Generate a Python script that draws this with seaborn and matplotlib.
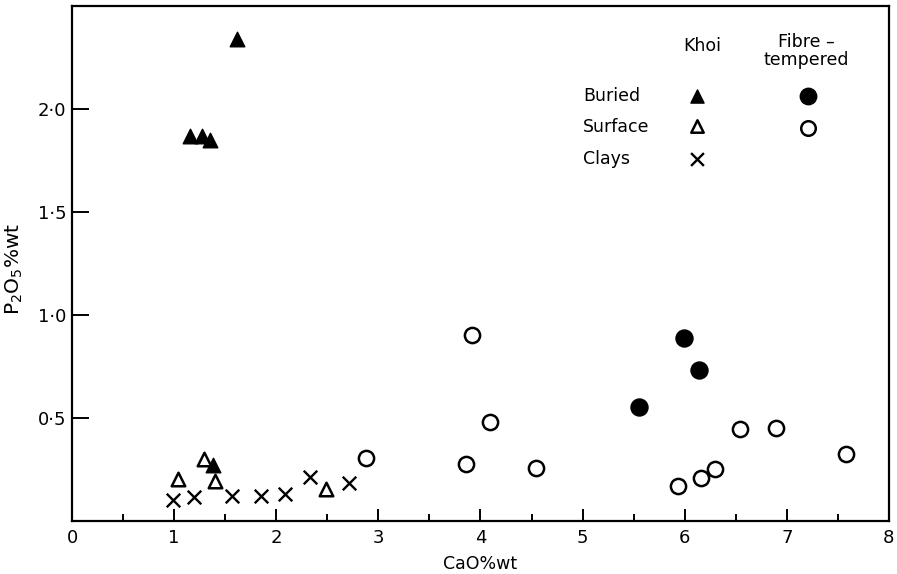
import matplotlib
matplotlib.use("Agg")
import matplotlib.pyplot as plt
import seaborn as sns
import pandas as pd
from matplotlib.ticker import MultipleLocator, FixedLocator

# ---- data ----
khoi_buried_cao = [1.16, 1.27, 1.35, 1.62, 1.38]
khoi_buried_p2o5 = [1.87, 1.87, 1.85, 2.34, 0.27]

khoi_surface_cao = [1.04, 1.29, 1.40, 2.49]
khoi_surface_p2o5 = [0.20, 0.30, 0.19, 0.155]

clays_cao = [0.99, 1.19, 1.57, 1.85, 2.09, 2.33, 2.71]
clays_p2o5 = [0.10, 0.115, 0.12, 0.12, 0.13, 0.21, 0.18]

fibre_buried_cao = [5.55, 5.99, 6.14]
fibre_buried_p2o5 = [0.55, 0.885, 0.73]

fibre_surface_cao = [2.88, 3.86, 3.92, 4.09, 4.54, 5.93, 6.16, 6.30, 6.54, 6.89, 7.58]
fibre_surface_p2o5 = [0.305, 0.275, 0.90, 0.48, 0.255, 0.17, 0.205, 0.25, 0.445, 0.45, 0.325]

x_ticks = [0, 1, 2, 3, 4, 5, 6, 7, 8]
x_tick_labels = ["0", "1", "2", "3", "4", "5", "6", "7", "8"]
y_ticks = [0.5, 1.0, 1.5, 2.0]
y_tick_labels = ["0·5", "1·0", "1·5", "2·0"]

sns.set_theme(style="white")
plt.rcParams["font.family"] = ["DejaVu Sans"]
plt.rcParams["text.color"] = "black"
plt.rcParams["axes.labelcolor"] = "black"

fig = plt.figure(figsize=(8.97, 5.74), dpi=100)
ax = fig.add_axes([0.0803, 0.0932, 0.9107, 0.8963])

groups = [
    (khoi_buried_cao, khoi_buried_p2o5, dict(marker="^", s=110, color="black", edgecolor="black", linewidth=1)),
    (khoi_surface_cao, khoi_surface_p2o5, dict(marker="^", s=95, facecolor="white", edgecolor="black", linewidth=1.8)),
    (clays_cao, clays_p2o5, dict(marker="x", s=95, color="black", linewidth=1.7)),
    (fibre_buried_cao, fibre_buried_p2o5, dict(marker="o", s=150, color="black", edgecolor="black", linewidth=1)),
    (fibre_surface_cao, fibre_surface_p2o5, dict(marker="o", s=120, facecolor="white", edgecolor="black", linewidth=1.8)),
]
for xs, ys, kw in groups:
    df = pd.DataFrame({"CaO": xs, "P2O5": ys})
    sns.scatterplot(data=df, x="CaO", y="P2O5", ax=ax, zorder=3, **kw)

ax.set_xlim(0, 8)
ax.set_ylim(0, 2.5)
ax.xaxis.set_major_locator(FixedLocator(x_ticks))
ax.set_xticklabels(x_tick_labels)
ax.xaxis.set_minor_locator(MultipleLocator(0.5))
ax.yaxis.set_major_locator(FixedLocator(y_ticks))
ax.set_yticklabels(y_tick_labels)

ax.tick_params(axis="x", which="major", direction="in", length=9, width=1.4,
               labelsize=13, pad=6, bottom=True, color="black", labelcolor="black")
ax.tick_params(axis="x", which="minor", direction="in", length=5, width=1.4, bottom=True, color="black")
ax.tick_params(axis="y", which="major", direction="in", length=12, width=1.4,
               labelsize=13, pad=4, left=True, color="black", labelcolor="black")

for sp in ax.spines.values():
    sp.set_visible(True)
    sp.set_color("black")
    sp.set_linewidth(1.6)

ax.set_xlabel("CaO%wt", fontsize=12.5, color="black", labelpad=6)
ax.set_ylabel(r"P$_2$O$_5$%wt", fontsize=14.5, color="black")
ax.yaxis.set_label_coords(-0.057, 0.489)

# ---- legend drawn as text + symbols (axes coordinates) ----
def ax_xy(px, py):
    return ((px - 72) / 817.0, (520.5 - py) / 514.5)

tr = ax.transAxes
fs = 12.5
x, y = ax_xy(702, 46)
ax.text(x, y, "Khoi", transform=tr, ha="center", va="center", fontsize=fs, color="black")
x, y = ax_xy(806, 51)
ax.text(x, y, "Fibre –\ntempered", transform=tr, ha="center", va="center",
        fontsize=fs, linespacing=0.95, color="black")
rows = [("Buried", 96), ("Surface", 127), ("Clays", 159)]
for lab, py in rows:
    x, y = ax_xy(583, py)
    ax.text(x, y, lab, transform=tr, ha="left", va="center", fontsize=fs, color="black")

leg_syms = [
    (697, 96, dict(marker="^", s=90, color="black", edgecolor="black", linewidth=1)),
    (697, 126, dict(marker="^", s=80, facecolor="white", edgecolor="black", linewidth=1.8)),
    (697, 159, dict(marker="x", s=85, color="black", linewidth=1.7)),
    (808, 96, dict(marker="o", s=140, color="black", edgecolor="black", linewidth=1)),
    (808, 128, dict(marker="o", s=110, facecolor="white", edgecolor="black", linewidth=1.8)),
]
for px, py, kw in leg_syms:
    x, y = ax_xy(px, py)
    ax.scatter([x], [y], transform=tr, clip_on=False, zorder=4, **kw)

fig.savefig("out.png", dpi=100)
